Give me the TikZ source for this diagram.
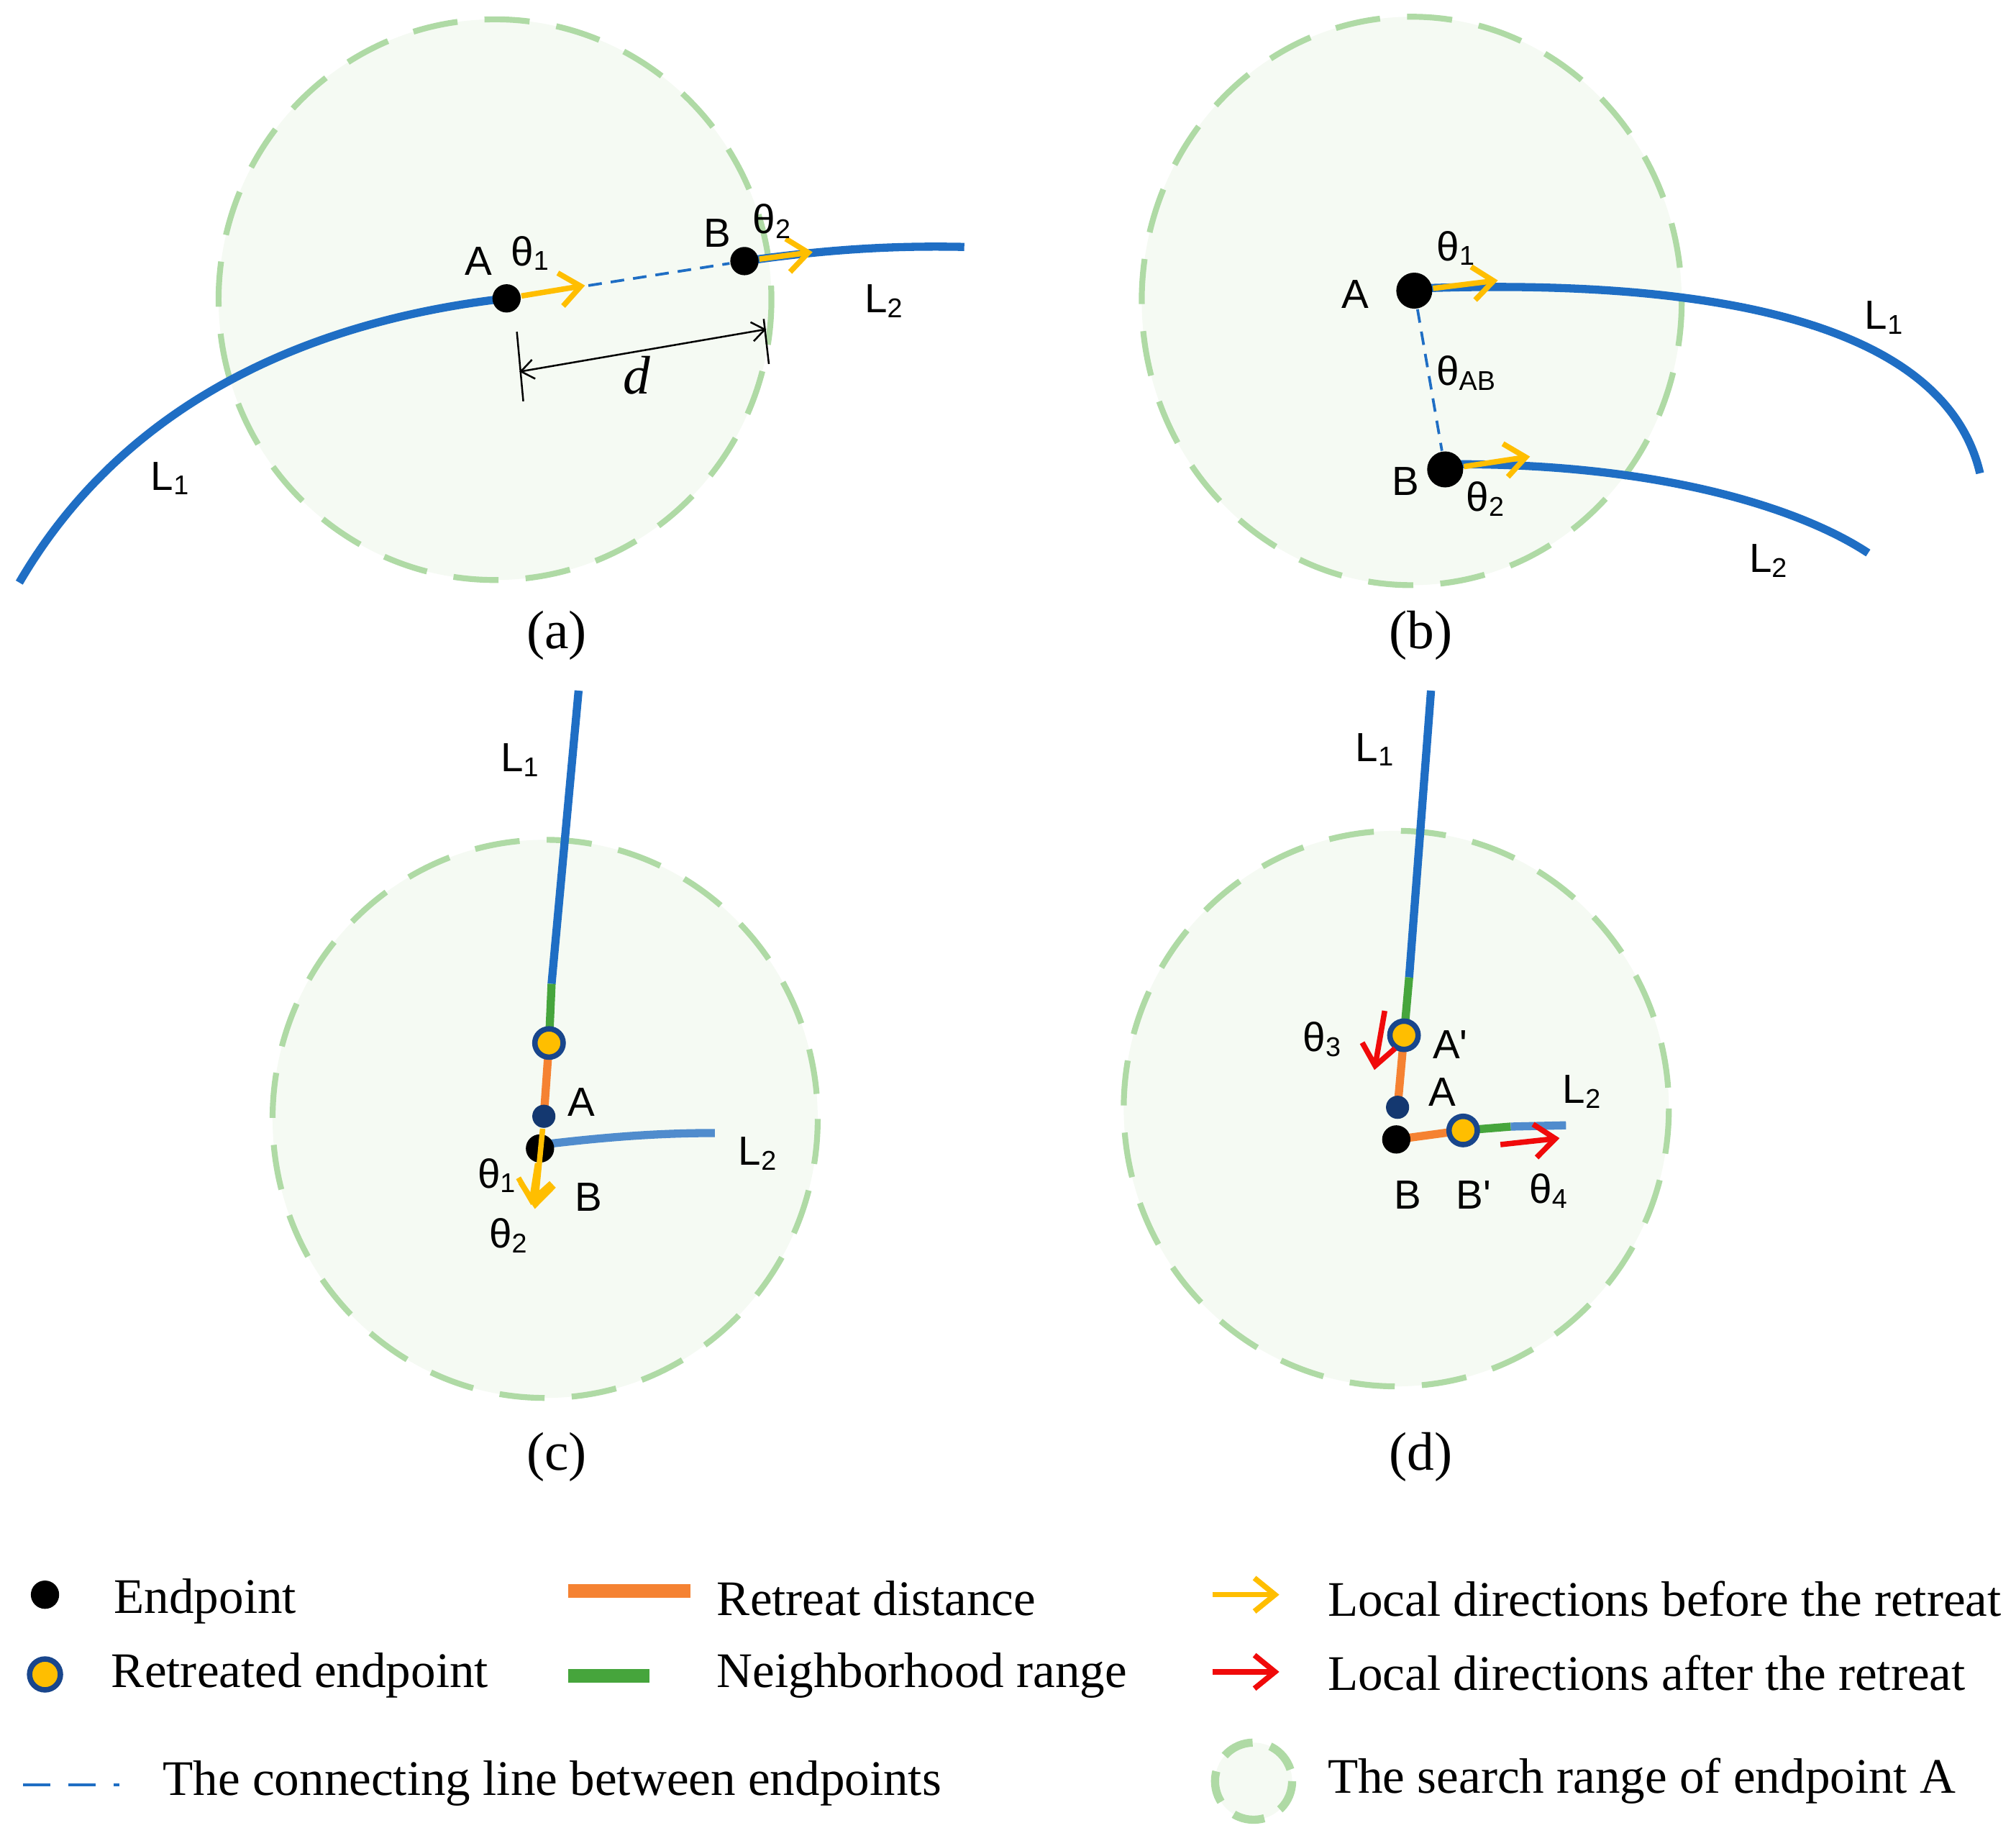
\documentclass[tikz,border=0pt]{standalone}
\usepackage{fontspec}
\setmainfont{Liberation Serif}
\newfontfamily\lsans{Liberation Sans}
\usetikzlibrary{arrows.meta}
\definecolor{lblue}{RGB}{31,110,196}
\definecolor{lblue2}{RGB}{80,140,205}
\definecolor{lorange}{RGB}{245,130,50}
\definecolor{lgreen}{RGB}{70,165,60}
\definecolor{lyellow}{RGB}{255,190,0}
\definecolor{lred}{RGB}{240,10,10}
\definecolor{cfill}{RGB}{245,250,243}
\definecolor{cline}{RGB}{175,218,165}
\definecolor{rborder}{RGB}{25,70,140}
\newcommand{\thsub}[1]{θ\textsubscript{#1}}
\tikzset{
 srange/.style={fill=cfill,draw=cline,line width=1.3pt,dash pattern=on 10pt off 6pt},
 lline/.style={draw=lblue,line width=1.8pt},
 ep/.style={circle,fill=black,inner sep=0pt,minimum size=2.2mm},
 rep/.style={circle,fill=lyellow,draw=rborder,line width=1.2pt,inner sep=0pt,minimum size=2.2mm},
 ydir/.style={draw=lyellow,line width=1.2pt,-{Straight Barb[length=1.6mm,width=2.6mm]}},
 rdir/.style={draw=lred,line width=1.2pt,-{Straight Barb[length=1.6mm,width=2.6mm]}},
 conn/.style={draw=lblue,line width=0.6pt,dash pattern=on 3pt off 2pt},
 lab/.style={font=\lsans\fontsize{9}{10}\selectfont,inner sep=0pt},
 capt/.style={font=\fontsize{12}{14}\selectfont,inner sep=0pt},
 leg/.style={font=\fontsize{11}{13}\selectfont,anchor=west,inner sep=0pt},
}
\begin{document}
\begin{tikzpicture}[x=0.1mm,y=-0.1mm]
\useasboundingbox (0,0) rectangle (1568,1435);
% (a)
\path[srange] (385,233) ellipse [x radius=215,y radius=218];
\draw[lline] (15,453) .. controls (110,290) and (280,245) .. (394,232);
\draw[lline] (579,203) .. controls (650,193) and (700,191) .. (750,192);
\node[ep] (aA) at (394,232) {};
\node[ep] (aB) at (579,203) {};
\coordinate (aA1) at (455,222); \coordinate (aB1) at (632,196);
\draw[conn] (aA) -- (aB);
\draw[ydir] (aA) -- (aA1);
\draw[ydir] (aB) -- (aB1);
\coordinate (d1) at (402,258); \coordinate (d2) at (407,312);
\coordinate (d3) at (594,248); \coordinate (d4) at (598,283);
\draw[line width=0.4pt] (d1) -- (d2) (d3) -- (d4);
\draw[line width=0.4pt,{Straight Barb[length=1mm,width=1.5mm]}-{Straight Barb[length=1mm,width=1.5mm]}] (404,289) -- (596,256);
\node[capt,font=\itshape\fontsize{12}{14}\selectfont] at (495,292) {d};
\node[lab] at (372,203) {A};
\node[lab] at (413,197) {\thsub{1}};
\node[lab] at (558,181) {B};
\node[lab] at (601,172) {\thsub{2}};
\node[lab] at (688,234) {L\textsubscript{2}};
\node[lab] at (133,372) {L\textsubscript{1}};
\node[capt] at (433,494) {(a)};
% (b)
\path[srange] (1098,234) ellipse [x radius=210,y radius=221];
\draw[lline] (1110,224) .. controls (1300,218) and (1510,240) .. (1540,368);
\draw[lline] (1128,361) .. controls (1290,360) and (1400,395) .. (1453,430);
\node[ep,minimum size=2.8mm] (bA) at (1100,226) {};
\node[ep,minimum size=2.8mm] (bB) at (1124,365) {};
\coordinate (bA1) at (1165,218); \coordinate (bB1) at (1190,355);
\draw[conn] (bA) -- (bB);
\draw[ydir] (bA) -- (bA1);
\draw[ydir] (bB) -- (bB1);
\node[lab] at (1054,229) {A};
\node[lab] at (1133,193) {\thsub{1}};
\node[lab] at (1141,290) {\thsub{AB}};
\node[lab] at (1093,374) {B};
\node[lab] at (1156,388) {\thsub{2}};
\node[lab] at (1466,247) {L\textsubscript{1}};
\node[lab] at (1376,436) {L\textsubscript{2}};
\node[capt] at (1105,494) {(b)};
% (c)
\path[srange] (424,870) ellipse [x radius=212,y radius=217];
\draw[lline] (450,537) -- (429,765);
\draw[draw=lgreen,line width=1.8pt] (429,765) -- (427,811);
\draw[draw=lorange,line width=1.8pt] (427,811) -- (423,868);
\draw[draw=lblue2,line width=1.8pt] (422,890) .. controls (480,883) and (520,881) .. (556,881);
\node[circle,fill=rborder!80!black,inner sep=0pt,minimum size=1.8mm] (cA) at (423,868) {};
\node[ep] (cB) at (420,893) {};
\node[rep] (cR) at (427,811) {};
\coordinate (c1) at (416,940); \coordinate (c2) at (413,937);
\draw[ydir] (cA) -- (c1);
\draw[ydir] (cB) -- (c2);
\node[lab] at (405,591) {L\textsubscript{1}};
\node[lab] at (452,857) {A};
\node[lab] at (590,897) {L\textsubscript{2}};
\node[lab] at (387,914) {\thsub{1}};
\node[lab] at (458,931) {B};
\node[lab] at (396,961) {\thsub{2}};
\node[capt] at (433,1133) {(c)};
% (d)
\path[srange] (1086,862) ellipse [x radius=212,y radius=216];
\draw[lline] (1113,537) -- (1096,760);
\draw[draw=lgreen,line width=1.8pt] (1096,760) -- (1092,805);
\draw[draw=lorange,line width=1.8pt] (1092,805) -- (1087,861);
\draw[draw=lorange,line width=1.8pt] (1086,886) -- (1138,879);
\draw[draw=lgreen,line width=1.8pt] (1138,879) -- (1175,876);
\draw[draw=lblue2,line width=1.8pt] (1175,876) -- (1218,875);
\node[circle,fill=rborder!80!black,inner sep=0pt,minimum size=1.8mm] (dA) at (1087,861) {};
\node[ep] (dB) at (1086,886) {};
\node[rep] (dAp) at (1092,805) {};
\node[rep] (dBp) at (1138,879) {};
\coordinate (t3a) at (1077,786); \coordinate (t3b) at (1069,832);
\coordinate (t4a) at (1167,890); \coordinate (t4b) at (1213,885);
\draw[rdir] (t3a) -- (t3b);
\draw[rdir] (t4a) -- (t4b);
\node[lab] at (1070,583) {L\textsubscript{1}};
\node[lab] at (1029,808) {\thsub{3}};
\node[lab] at (1128,812) {A'};
\node[lab] at (1122,849) {A};
\node[lab] at (1231,849) {L\textsubscript{2}};
\node[lab] at (1095,929) {B};
\node[lab] at (1146,929) {B'};
\node[lab] at (1205,926) {\thsub{4}};
\node[capt] at (1105,1133) {(d)};
% legend
\node[ep] (l1) at (35,1240) {};
\node[leg] at (88,1245) {Endpoint};
\node[rep,minimum size=2.4mm] (l2) at (35,1302) {};
\node[leg] at (86,1303) {Retreated endpoint};
\coordinate (l3a) at (18,1388); \coordinate (l3b) at (93,1388);
\draw[conn,dash pattern=on 6pt off 4pt] (l3a) -- (l3b);
\node[leg] at (126,1387) {The connecting line between endpoints};
\coordinate (l4a) at (442,1237); \coordinate (l4b) at (537,1237);
\draw[lorange,line width=3pt] (l4a) -- (l4b);
\node[leg] at (557,1243) {Retreat distance};
\coordinate (l5a) at (442,1303); \coordinate (l5b) at (505,1303);
\draw[lgreen,line width=3pt] (l5a) -- (l5b);
\node[leg] at (557,1303) {Neighborhood range};
\coordinate (l6a) at (943,1240); \coordinate (l6b) at (995,1240);
\draw[ydir] (l6a) -- (l6b);
\node[leg] at (1032,1243) {Local directions before the retreat};
\coordinate (l7a) at (943,1300); \coordinate (l7b) at (995,1300);
\draw[rdir] (l7a) -- (l7b);
\node[leg] at (1032,1301) {Local directions after the retreat};
\path[srange,line width=1.8pt,dash pattern=on 7pt off 4pt] (975,1385) circle [radius=30];
\node[leg] at (1032,1385) {The search range of endpoint A};
\end{tikzpicture}
\end{document}
